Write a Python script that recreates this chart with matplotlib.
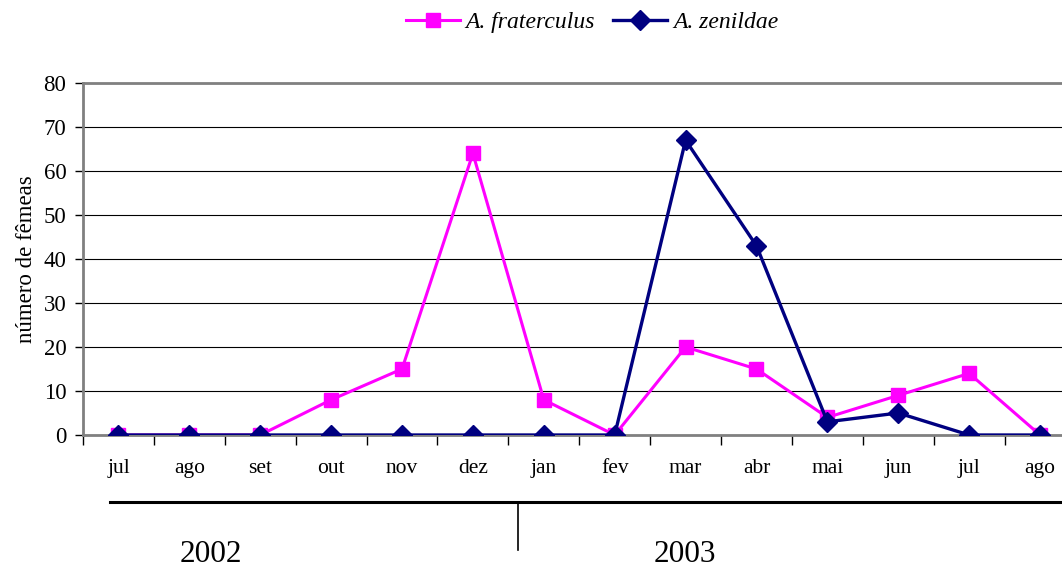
import matplotlib
matplotlib.use("Agg")
import matplotlib.pyplot as plt
from matplotlib.lines import Line2D
import numpy as np

# Monthly counts of females captured, Jul 2002 – Aug 2003
months = ["jul", "ago", "set", "out", "nov", "dez", "jan", "fev",
          "mar", "abr", "mai", "jun", "jul", "ago"]
fraterculus = [0, 0, 0, 8, 15, 64, 8, 0, 20, 15, 4, 9, 14, 0]
zenildae = [0, 0, 0, 0, 0, 0, 0, 0, 67, 43, 3, 5, 0, 0]
years = ["2002", "2003"]
y_ticks = [0, 10, 20, 30, 40, 50, 60, 70, 80]

plt.rcParams["font.family"] = ["Liberation Serif", "DejaVu Serif"]

W, H = 1062, 567
fig = plt.figure(figsize=(W / 100, H / 100), dpi=100)
fig.patch.set_facecolor("white")

def fx(px):
    return px / W

def fy(py):
    return 1 - py / H

# plot area (runs slightly past the right edge of the canvas)
left, right, top, bottom = 83, 1075.5, 83, 435
ax = fig.add_axes([fx(left), fy(bottom), fx(right - left), (bottom - top) / H])

x = np.arange(len(months))
ax.plot(x, fraterculus, color="#FF00FF", lw=2.2, marker="s", ms=10,
        mec="#FF00FF", mfc="#FF00FF", label="A. fraterculus", zorder=3)
ax.plot(x, zenildae, color="#000080", lw=2.4, marker="D", ms=10,
        mec="#000080", mfc="#000080", label="A. zenildae", zorder=4)

ax.set_xlim(-0.5, len(months) - 0.5)
ax.set_ylim(0, 80)
ax.set_xticks(x)
ax.set_xticklabels(months, fontsize=15.5)
ax.set_xticks(np.arange(-0.5, len(months), 1), minor=True)
ax.tick_params(axis="x", which="major", length=0, pad=17)
ax.tick_params(axis="x", which="minor", length=7, width=1, color="black",
               direction="out")
ax.set_yticks(y_ticks)
ax.set_yticklabels([str(v) for v in y_ticks], fontsize=16.5)
ax.tick_params(axis="y", length=6, width=1, color="black", direction="out", pad=6)

ax.grid(axis="y", color="black", lw=0.8)
ax.set_axisbelow(True)
for side in ("left", "bottom", "top"):
    ax.spines[side].set_color("#808080")
    ax.spines[side].set_linewidth(2)
ax.spines["right"].set_visible(False)

ax.set_ylabel("número de fêmeas", fontsize=16.5, labelpad=5)

# year bracket below the month axis
fig.add_artist(Line2D([fx(110), fx(1062)], [fy(502), fy(502)],
                      color="black", lw=2.2))
fig.add_artist(Line2D([fx(518), fx(518)], [fy(502), fy(550)],
                      color="black", lw=1.2))
fig.text(fx(211), fy(554), years[0], fontsize=22.5, ha="center", va="center")
fig.text(fx(685), fy(554), years[1], fontsize=22.5, ha="center", va="center")

leg = fig.legend(loc="center", bbox_to_anchor=(fx(592), fy(22)), ncol=2,
                 frameon=False, prop={"style": "italic", "size": 17},
                 handlelength=2.3, handletextpad=0.25, columnspacing=0.75,
                 markerscale=1.0)

fig.savefig("out.png", dpi=100, facecolor="white")
